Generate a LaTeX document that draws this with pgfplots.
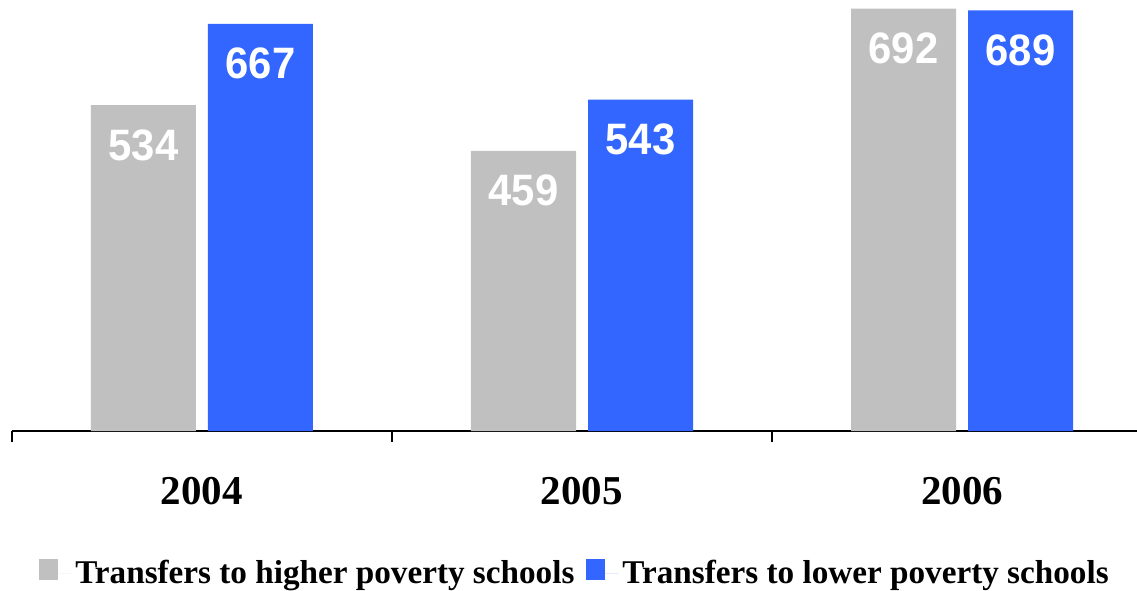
\documentclass[border=0pt]{standalone}
\usepackage{fontspec}
\setmainfont{Liberation Serif}
\newfontfamily\numfont[FakeStretch=0.95]{Liberation Sans}
\usepackage{pgfplots}
\pgfplotsset{compat=1.18}
\definecolor{cgray}{HTML}{C0C0C0}
\definecolor{cblue}{HTML}{3366FF}

\begin{document}
\begin{tikzpicture}
\begin{axis}[
 scale only axis,
 width=570pt, height=215.5pt,
 xmin=-0.5, xmax=2.5, ymin=0, ymax=706,
 ybar=6pt, bar width=52.5pt,
 /pgf/number format/assume math mode=true,
 axis y line=none,
 axis x line*=bottom,
 x axis line style={line width=0.8pt, black},
 xtick={0,1,2},
 xticklabels={2004,2005,2006},
 major tick length=0pt,
 minor xtick={-0.5,0.5,1.5},
 minor tick length=5.5pt,
 tick align=outside,
 tick style={black, line width=0.8pt},
 xticklabel style={font=\fontsize{20.5}{24}\selectfont\bfseries, yshift=-19.5pt},
 nodes near coords,
 nodes near coords style={anchor=center, yshift=-20pt, font=\numfont\fontsize{22}{26}\selectfont\bfseries, text=white},
 legend style={at={(0.5,0)}, anchor=center, yshift=-71pt, xshift=-3pt, draw=none, legend columns=2, font=\fontsize{16.6}{20}\selectfont\bfseries, /tikz/every even column/.append style={column sep=4pt}},
 legend image code/.code={\fill[#1] (0pt,-3.5pt) rectangle (9.5pt,7pt); \path (0pt,0pt) -- (16pt,0pt);},
]
\addplot[fill=cgray, draw=none] coordinates {(0,534) (1,459) (2,692)};
\addplot[fill=cblue, draw=none] coordinates {(0,667) (1,543) (2,689)};
\legend{Transfers to higher poverty schools, Transfers to lower poverty schools}
\end{axis}
\pgfresetboundingbox
\useasboundingbox (-6pt,-79.5pt) rectangle (562.5pt,215.5pt);
\end{tikzpicture}
\end{document}
